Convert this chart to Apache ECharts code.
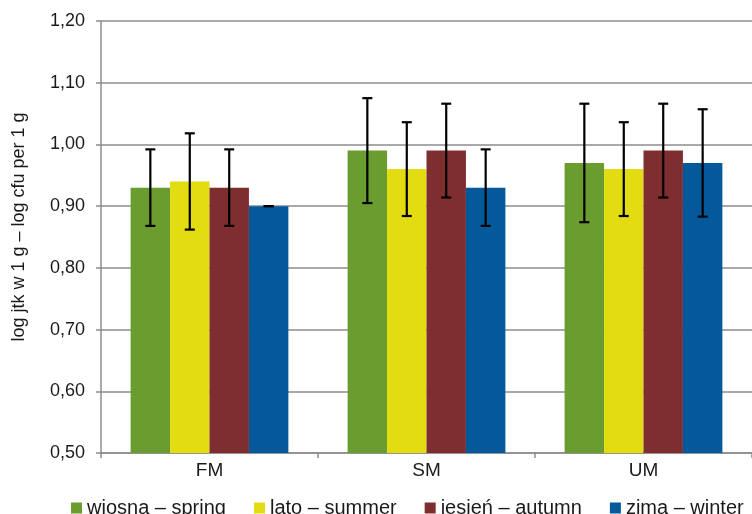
<!DOCTYPE html>
<html>
<head>
<meta charset="utf-8">
<script src="https://cdn.jsdelivr.net/npm/echarts@6/dist/echarts.min.js"></script>
<style>html,body{margin:0;padding:0;background:#fff}#c{width:752px;height:514px}</style>
</head>
<body>
<div id="c"></div>
<script>
var categories = ['FM', 'SM', 'UM'];
var seriesNames = ['wiosna – spring', 'lato – summer', 'jesień – autumn', 'zima – winter'];
var yTitle = 'log jtk w 1 g – log cfu per 1 g';
var spring = [0.93, 0.99, 0.97];
var summer = [0.94, 0.96, 0.96];
var autumn = [0.93, 0.99, 0.99];
var winter = [0.90, 0.93, 0.97];
var springErr = [0.062, 0.085, 0.096];
var summerErr = [0.078, 0.076, 0.076];
var autumnErr = [0.062, 0.076, 0.076];
var winterErr = [0.0, 0.062, 0.087];
var yTicks = [0.5, 0.6, 0.7, 0.8, 0.9, 1.0, 1.1, 1.2];
var colors = ['#6A9C30', '#E2DC10', '#7F2E30', '#04599B'];

var values = [spring, summer, autumn, winter];
var errs = [springErr, summerErr, autumnErr, winterErr];
var catGap = 0.273;
var nBars = 4;

var chart = echarts.init(document.getElementById('c'));
var series = [];
values.forEach(function (v, i) {
  series.push({
    name: seriesNames[i], type: 'bar', data: v,
    barGap: '0%', barCategoryGap: (catGap * 100) + '%',
    itemStyle: { color: colors[i] }
  });
});
values.forEach(function (v, i) {
  var data = v.map(function (val, k) { return [k, val - errs[i][k], val + errs[i][k]]; });
  series.push({
    name: 'err' + i, type: 'custom', data: data, z: 10,
    renderItem: function (params, api) {
      var k = api.value(0);
      var catW = api.size([1, 0])[0];
      var barW = catW * (1 - catGap) / nBars;
      var c = api.coord([k, api.value(1)]);
      var top = api.coord([k, api.value(2)]);
      var x = c[0] - catW * (1 - catGap) / 2 + barW * (i + 0.5);
      var cap = 5;
      var st = { stroke: '#000', lineWidth: 2.2 };
      return {
        type: 'group',
        children: [
          { type: 'line', shape: { x1: x, y1: c[1], x2: x, y2: top[1] }, style: st },
          { type: 'line', shape: { x1: x - cap, y1: c[1], x2: x + cap, y2: c[1] }, style: st },
          { type: 'line', shape: { x1: x - cap, y1: top[1], x2: x + cap, y2: top[1] }, style: st }
        ]
      };
    }
  });
});

var ff = 'Liberation Sans, Arial, sans-serif';
chart.setOption({
  animation: false,
  textStyle: { fontFamily: ff },
  grid: { left: 101, right: -9, top: 21, bottom: 61, containLabel: false },
  legend: {
    data: seriesNames, top: 493, left: 66, itemWidth: 11, itemHeight: 11, itemGap: 28,
    icon: 'rect',
    textStyle: { fontSize: 20, color: '#1a1a1a', padding: [0, 0, 0, 0] }
  },
  graphic: [{
    type: 'text', x: 19, y: 227, rotation: Math.PI / 2,
    style: { text: yTitle, font: '18px ' + ff, fill: '#1a1a1a', textAlign: 'center', textVerticalAlign: 'middle' }
  }],
  xAxis: {
    type: 'category', data: categories,
    axisLine: { lineStyle: { color: '#8c8c8c', width: 1.5 } },
    axisTick: { show: true, length: 5, lineStyle: { color: '#8c8c8c', width: 1.5 } },
    axisLabel: { fontSize: 19, color: '#1a1a1a', margin: 8 }
  },
  yAxis: {
    type: 'value', min: yTicks[0], max: yTicks[yTicks.length - 1], interval: 0.1,
    axisLine: { show: true, lineStyle: { color: '#8c8c8c', width: 1.5 } },
    axisTick: { show: true, length: 5, lineStyle: { color: '#8c8c8c', width: 1.5 } },
    splitLine: { lineStyle: { color: '#8c8c8c', width: 1.5 } },
    axisLabel: { fontSize: 18, color: '#1a1a1a', margin: 16,
      formatter: function (v) { return v.toFixed(2).replace('.', ','); } }
  },
  series: series
});
</script>
</body>
</html>
